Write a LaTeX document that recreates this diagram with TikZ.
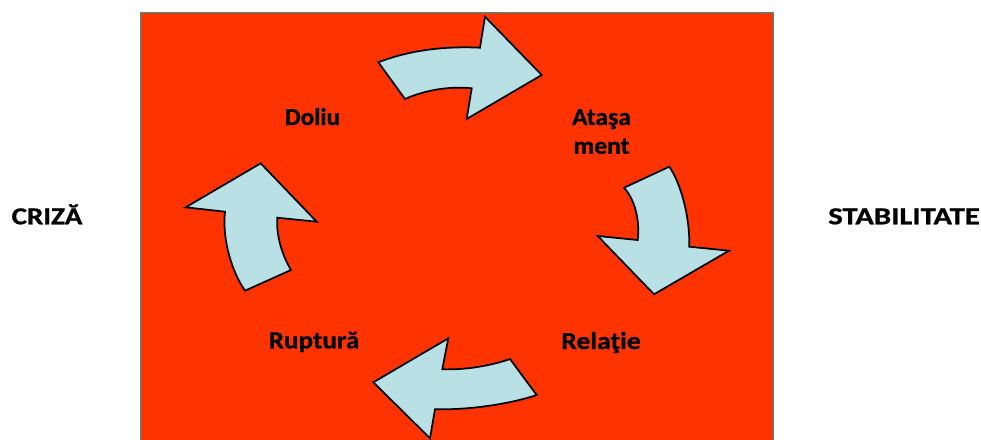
\documentclass[tikz,border=0pt]{standalone}
\usepackage{fontspec}
\setmainfont{Carlito}
\newfontfamily\lblfont{Carlito Bold}[FakeBold=0.8]
\definecolor{bgred}{RGB}{255,51,0}
\definecolor{frame}{RGB}{30,160,160}
\definecolor{arrowfill}{RGB}{185,224,228}
\begin{document}
\begin{tikzpicture}[x=0.75pt,y=-0.75pt,
  cyclearrow/.style={draw=black, line width=1.3pt, fill=arrowfill, line join=miter},
  lbl/.style={inner sep=0pt, anchor=base, font=\fontsize{18.3}{21.6}\lblfont}]
\useasboundingbox (0,0) rectangle (981,439);

% panel
\draw[frame, line width=1.4pt, fill=bgred] (140.5,12.5) rectangle (773.5,460);

% arrow Doliu -> Atasament
\draw[cyclearrow] (378.3,62.3) .. controls (410,50) and (445,46) .. (480,47.7)
  -- (485,16.7) -- (541.7,75) -- (466.7,119) -- (471.7,88.3)
  .. controls (450,86) and (425,90) .. (405,99) -- cycle;

% arrow Atasament -> Relatie
\draw[cyclearrow] (624,187.7) -- (669.3,166.7)
  .. controls (680,182) and (690,215) .. (689.3,246.7)
  -- (729,250.7) -- (654,294.3) -- (597.7,236) -- (637.7,240)
  .. controls (640,220) and (635,200) .. cycle;

% arrow Relatie -> Ruptura
\draw[cyclearrow] (510,359) .. controls (490,366) and (465,370) .. (442.3,369.3)
  -- (448.3,338.3) -- (373.3,382.3) -- (430,438.3) -- (435,409.3)
  .. controls (470,410) and (510,404) .. (536.7,395) -- cycle;

% arrow Ruptura -> Doliu
\draw[cyclearrow] (245,290.7) -- (291,270)
  .. controls (282,255) and (276,235) .. (277.3,217.7)
  -- (316.7,221.7) -- (260.7,163.3) -- (185.7,207.3) -- (225,211.7)
  .. controls (222,240) and (232,272) .. cycle;

% labels
\node[lbl] (doliu) at (312.5,125) {\scalebox{1.03}[1]{Doliu}};
\node[lbl] (atasament) at (601.5,125) {\scalebox{1.05}[1]{\begin{tabular}[t]{@{}c@{}}Ataşa\\ment\end{tabular}}};
\node[lbl] (relatie) at (601,349) {\scalebox{1.13}[1]{Relaţie}};
\node[lbl] (ruptura) at (314,348.3) {\scalebox{1.11}[1]{Ruptură}};
\node[lbl] (criza) at (47,224.3) {\scalebox{1.19}[1]{CRIZĂ}};
\node[lbl] (stabilitate) at (904,224.3) {\scalebox{1.26}[1]{STABILITATE}};
\end{tikzpicture}
\end{document}
